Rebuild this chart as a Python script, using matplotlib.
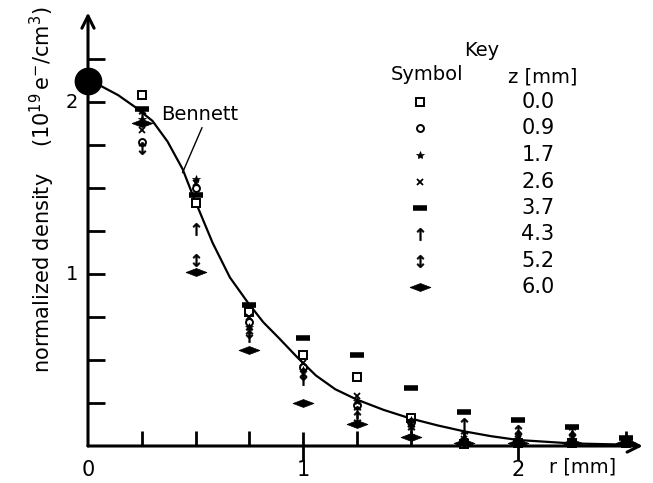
import numpy as np
import matplotlib
matplotlib.use('Agg')
import matplotlib.pyplot as plt
from matplotlib.path import Path

# Data

r_pos = [0.25, 0.5, 0.75, 1.0, 1.25, 1.5, 1.75, 2.0, 2.25, 2.5]

z_labels = ['0.0', '0.9', '1.7', '2.6', '3.7', '4.3', '5.2', '6.0']

dens_z00 = [2.04, 1.41, 0.78, 0.53, 0.40, 0.16, 0.01, 0.02, 0.02, 0.02]
dens_z09 = [1.77, 1.50, 0.72, 0.46, 0.24, 0.14, 0.03, 0.03, 0.02, 0.02]
dens_z17 = [1.90, 1.55, 0.69, 0.44, 0.26, 0.15, 0.04, 0.03, 0.02, 0.02]
dens_z26 = [1.84, 1.53, 0.75, 0.48, 0.29, 0.13, 0.04, 0.04, 0.03, 0.03]
dens_z37 = [1.96, 1.46, 0.82, 0.63, 0.53, 0.34, 0.20, 0.15, 0.11, 0.045]
dens_z43 = [1.92, 1.26, 0.64, 0.39, 0.20, 0.10, 0.13, 0.06, 0.05, 0.03]
dens_z52 = [1.73, 1.08, 0.66, 0.42, 0.17, 0.08, 0.06, 0.09, 0.08, 0.03]
dens_z60 = [1.88, 1.01, 0.56, 0.25, 0.13, 0.05, 0.02, 0.02, 0.02, 0.02]

# Bennett curve, traced
bennett_r = [0, 0.05, 0.14, 0.22, 0.30, 0.37, 0.44, 0.49, 0.58, 0.66, 0.74,
             0.815, 0.89, 0.97, 1.06, 1.15, 1.25, 1.375, 1.5, 1.625, 1.75,
             1.875, 2.0, 2.25, 2.5]
bennett_n = [2.12, 2.10, 2.04, 1.97, 1.89, 1.77, 1.61, 1.45, 1.18, 0.98, 0.84,
             0.72, 0.625, 0.52, 0.41, 0.33, 0.27, 0.21, 0.16, 0.12, 0.085,
             0.057, 0.035, 0.015, 0.008]

center_r = [0.0]
center_n = [2.12]

x_ticklabels = ['0', '1', '2']
y_ticklabels = ['1', '2']


# marker styles per series

diamond = Path([(-1, 0), (0, 0.38), (1, 0), (0, -0.38), (-1, 0)],
               [Path.MOVETO, Path.LINETO, Path.LINETO, Path.LINETO, Path.CLOSEPOLY])

styles = [
    dict(marker='s', ms=6, mfc='white', mec='black', mew=1.4),
    dict(marker='o', ms=5, mfc='white', mec='black', mew=1.4),
    dict(marker='*', ms=6, mfc='black', mec='black', mew=0.5),
    dict(marker='x', ms=5, mec='black', mew=1.3),
    dict(marker='_', ms=10, mec='black', mew=4),
    dict(marker=r'$\uparrow$', ms=9, mfc='black', mec='black', mew=0.4),
    dict(marker=r'$\updownarrow$', ms=9, mfc='black', mec='black', mew=0.4),
    dict(marker=diamond, ms=15, mfc='black', mec='black', mew=0.5),
]

series = [dens_z00, dens_z09, dens_z17, dens_z26, dens_z37, dens_z43, dens_z52, dens_z60]

W, H = 653, 483
fig = plt.figure(figsize=(W / 100, H / 100), dpi=100)

# axes placed so that r=0 -> px 88, 1 mm -> 215 px ; n=0 -> px 446, 1 -> 172 px
xmax, ymax = 2.58, 2.52
ax = fig.add_axes([88 / W, (H - 446) / H, xmax * 215 / W, ymax * 172 / H])
ax.set_xlim(0, xmax)
ax.set_ylim(0, ymax)
for s in ax.spines.values():
    s.set_visible(False)

# axes with arrow heads
ax.annotate('', xy=(xmax, 0), xytext=(0, 0), annotation_clip=False,
            arrowprops=dict(arrowstyle='->', lw=2.2, color='black', mutation_scale=22,
                            shrinkA=0, shrinkB=0))
ax.annotate('', xy=(0, ymax), xytext=(0, 0), annotation_clip=False,
            arrowprops=dict(arrowstyle='->', lw=2.2, color='black', mutation_scale=22,
                            shrinkA=0, shrinkB=0))

# ticks
ax.set_xticks([1, 2])
ax.set_xticks(np.arange(0.25, 2.6, 0.25), minor=True)
ax.set_yticks([1, 2])
ax.set_yticks(np.arange(0.25, 2.3, 0.25), minor=True)
ax.set_xticklabels([])
ax.set_yticklabels([])
ax.tick_params(axis='x', which='both', direction='in', length=11, width=2, top=False)
ax.tick_params(axis='x', which='major', direction='inout', length=20, width=2)
ax.tick_params(axis='y', which='both', direction='in', length=12, width=2, right=False)

# tick labels as text
for lab, xv in zip(x_ticklabels, [0, 1, 2]):
    ax.text(xv, -0.14, lab, ha='center', va='center', fontsize=15)
for lab, yv in zip(y_ticklabels, [1, 2]):
    ax.text(-0.075, yv, lab, ha='center', va='center', fontsize=14)
ax.text(2.30, -0.12, 'r [mm]', ha='center', va='center', fontsize=14)

# curve and data
ax.plot(bennett_r, bennett_n, color='black', lw=1.6, zorder=2)
ax.plot(center_r, center_n, 'o', color='black', ms=19, clip_on=False, zorder=3)
for vals, st in zip(series, styles):
    ax.plot(r_pos, vals, ls='none', color='black', clip_on=False, zorder=4, **st)

# Bennett label and leader line
ax.text(0.34, 1.93, 'Bennett', ha='left', va='center', fontsize=14)
ax.plot([0.53, 0.44], [1.85, 1.59], color='black', lw=1.0)

# y label
fig.text(42 / W, 1 - 190 / H,
         r'normalized density    $(10^{19}\,\mathrm{e^{-}/cm^{3}})$',
         rotation=90, ha='center', va='center', fontsize=15)

# key
def fx(px):
    return px / W

def fy(py):
    return 1 - py / H

fig.text(fx(482), fy(50), 'Key', ha='center', va='center', fontsize=14)
fig.text(fx(427), fy(75), 'Symbol', ha='center', va='center', fontsize=14)
fig.text(fx(543), fy(77), 'z [mm]', ha='center', va='center', fontsize=14)
row_y = [102, 128, 155, 182, 208, 234, 261, 287]
for lab, st, py in zip(z_labels, styles, row_y):
    ax.plot([fx(420)], [fy(py)], transform=fig.transFigure, ls='none',
            color='black', clip_on=False, **st)
    fig.text(fx(538), fy(py), lab, ha='center', va='center', fontsize=15)

fig.savefig('out.png', dpi=100)
